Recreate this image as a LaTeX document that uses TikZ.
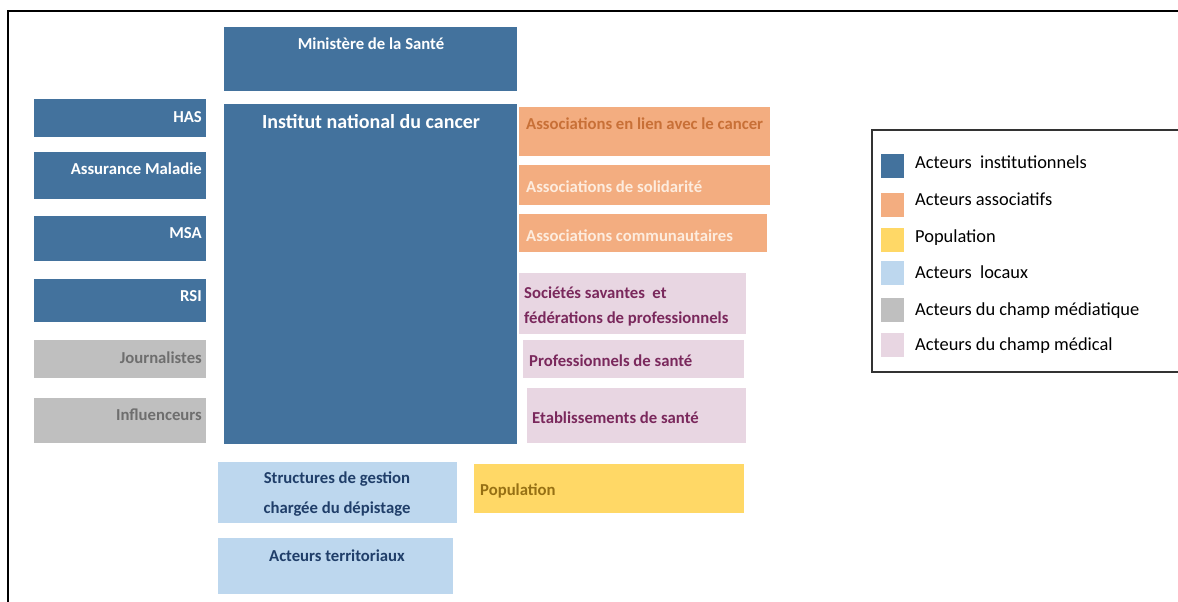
\documentclass[tikz,border=0pt]{standalone}
\usepackage{fontspec}
\setmainfont{Carlito}
\definecolor{inst}{RGB}{67,114,157}
\definecolor{asso}{RGB}{243,173,128}
\definecolor{popc}{RGB}{255,216,102}
\definecolor{loc}{RGB}{189,215,238}
\definecolor{med}{RGB}{191,191,191}
\definecolor{medic}{RGB}{232,214,226}
\definecolor{assoT}{RGB}{200,112,55}
\definecolor{assoW}{RGB}{253,236,222}
\definecolor{popT}{RGB}{150,112,20}
\definecolor{locT}{RGB}{32,62,105}
\definecolor{medT}{RGB}{110,110,110}
\definecolor{medicT}{RGB}{122,40,92}
\tikzset{
  boxx/.style={rectangle, inner sep=0pt, outer sep=0pt, anchor=north west},
  lab/.style={inner sep=0pt, yshift=-3pt, font=\bfseries\fontsize{16.7}{20}\selectfont},
  biglab/.style={inner sep=0pt, yshift=-3pt, font=\bfseries\fontsize{20}{24}\selectfont},
  legtxt/.style={inner sep=0pt, yshift=-3pt, anchor=mid west, font=\fontsize{18.4}{22}\selectfont},
  legsq/.style={rectangle, inner sep=0pt, outer sep=0pt, anchor=north west, minimum width=23pt, minimum height=24pt},
  frame/.style={line width=2pt, black},
  legframe/.style={line width=1.5pt, black!80}
}
\newcommand{\bx}[6]{\node[boxx, fill=#2, minimum width=#5pt, minimum height=#6pt] (#1) at (#3,#4) {};}
\begin{document}
\begin{tikzpicture}[x=1pt, y=-1pt]
\useasboundingbox (0,0) rectangle (1178,602);
% outer frame
\coordinate (fbl) at (7.5,602);
\coordinate (ftl) at (7.5,11.5);
\coordinate (ftr) at (1178,11.5);
\draw[frame] (fbl) -- (ftl) -- (ftr);
% boxes
\bx{min}{inst}{224}{27}{293}{64}
\bx{inca}{inst}{224}{104}{293}{340}
\bx{has}{inst}{34}{99}{172}{38}
\bx{am}{inst}{34}{152}{172}{47}
\bx{msa}{inst}{34}{216}{172}{45}
\bx{rsi}{inst}{34}{279}{172}{43}
\bx{jour}{med}{34}{340}{172}{38}
\bx{infl}{med}{34}{398}{172}{45}
\bx{a1}{asso}{519}{107}{251}{49}
\bx{a2}{asso}{519}{165}{251}{40}
\bx{a3}{asso}{519}{214}{248}{38}
\bx{s1}{medic}{519}{273}{227}{61}
\bx{s2}{medic}{523}{340}{221}{38}
\bx{s3}{medic}{527}{388}{219}{55}
\bx{st}{loc}{218}{462}{239}{61}
\bx{at}{loc}{218}{538}{235}{56}
\bx{pop}{popc}{474}{464}{270}{49}
% labels
\node[lab, white, anchor=mid] (tmin) at (371,44) {Ministère de la Santé};
\node[biglab, white, anchor=mid] (tinca) at (371,123) {Institut national du cancer};
\node[lab, white, anchor=mid east] (thas) at (202,117) {HAS};
\node[lab, white, anchor=mid east] (tam) at (202,169) {Assurance Maladie};
\node[lab, white, anchor=mid east] (tmsa) at (202,233) {MSA};
\node[lab, white, anchor=mid east] (trsi) at (202,296) {RSI};
\node[lab, medT, anchor=mid east] (tjour) at (202,358) {Journalistes};
\node[lab, medT, anchor=mid east] (tinfl) at (202,415) {Influenceurs};
\node[lab, assoT, anchor=mid west] (ta1) at (526,124) {Associations en lien avec le cancer};
\node[lab, assoW, anchor=mid west] (ta2) at (526,187) {Associations de solidarité};
\node[lab, assoW, anchor=mid west] (ta3) at (526,236) {Associations communautaires};
\node[lab, medicT, anchor=mid west] (ts1a) at (524,293) {Sociétés savantes\ \ et};
\node[lab, medicT, anchor=mid west] (ts1b) at (524,318) {fédérations de professionnels};
\node[lab, medicT, anchor=mid west] (ts2) at (529,361) {Professionnels de santé};
\node[lab, medicT, anchor=mid west] (ts3) at (532,418) {Etablissements de santé};
\node[lab, locT, anchor=mid] (tsta) at (337,478) {Structures de gestion};
\node[lab, locT, anchor=mid] (tstb) at (337,508) {chargée du dépistage};
\node[lab, locT, anchor=mid] (tat) at (337,556) {Acteurs territoriaux};
\node[lab, popT, anchor=mid west] (tpop) at (480,490) {Population};
% legend (right side runs off the picture)
\coordinate (ltr) at (1178,130);
\coordinate (ltl) at (872,130);
\coordinate (lbl) at (872,372);
\coordinate (lbr) at (1178,372);
\draw[legframe] (ltr) -- (ltl) -- (lbl) -- (lbr);
\node[legsq, fill=inst] (l1) at (881,154) {};
\node[legsq, fill=asso] (l2) at (881,193) {};
\node[legsq, fill=popc] (l3) at (881,228) {};
\node[legsq, fill=loc] (l4) at (881,261) {};
\node[legsq, fill=med] (l5) at (881,298) {};
\node[legsq, fill=medic] (l6) at (881,333) {};
\node[legtxt] (lt1) at (915,163) {Acteurs\ \ institutionnels};
\node[legtxt] (lt2) at (915,200) {Acteurs associatifs};
\node[legtxt] (lt3) at (915,237) {Population};
\node[legtxt] (lt4) at (915,273) {Acteurs\ \ locaux};
\node[legtxt] (lt5) at (915,310) {Acteurs du champ médiatique};
\node[legtxt] (lt6) at (915,345) {Acteurs du champ médical};
\end{tikzpicture}
\end{document}
